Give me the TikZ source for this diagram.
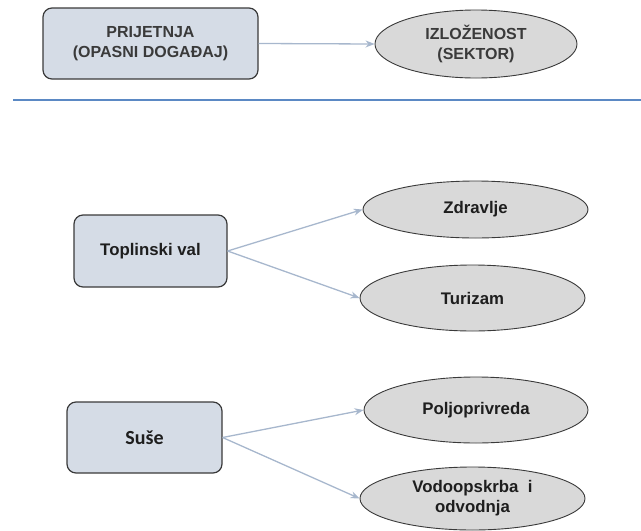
\documentclass[tikz,border=0pt]{standalone}
\usepackage{fontspec}
\setmainfont{Liberation Sans}
\newfontfamily\calfont{Carlito}
\usetikzlibrary{shapes.geometric,arrows.meta}
\definecolor{boxfill}{HTML}{D5DCE6}
\definecolor{ellfill}{HTML}{D9D9D9}
\definecolor{edgecol}{HTML}{3A3A3A}
\definecolor{arrcol}{HTML}{A7B7CD}
\definecolor{linecol}{HTML}{5B89C4}
\definecolor{txtgray}{HTML}{3A3A3A}
\definecolor{txtdark}{HTML}{1E1E1E}
\tikzset{
  hazard/.style={draw=edgecol, line width=1.2pt, fill=boxfill, rounded corners=9pt, inner sep=0pt, align=center},
  sector/.style={ellipse, draw=edgecol, line width=0.9pt, fill=ellfill, inner sep=0pt, align=center},
  link/.style={draw=arrcol, line width=1.3pt, -{Stealth[length=9pt,width=7pt]}},
  lbl/.style={font=\fontsize{16}{20}\selectfont\bfseries, text=txtgray},
  lbl2/.style={font=\fontsize{16.8}{20}\selectfont\bfseries, text=txtdark}
}
\begin{document}
\begin{tikzpicture}[x=1pt,y=-1pt]
\useasboundingbox (0,0) rectangle (641,531);
% header
\node[hazard, lbl, minimum width=215pt, minimum height=71pt] (prij) at (150.5,43.5) {PRIJETNJA\\(OPASNI DOGA\DJ AJ)};
\node[sector, lbl, minimum width=202pt, minimum height=68pt] (izl) at (476,44) {IZLOŽENOST\\(SEKTOR)};
\draw[link] (prij.east) -- (izl.west);
\coordinate (la) at (13,100);
\coordinate (lb) at (641,100);
\draw[linecol, line width=1.2pt] (la) -- (lb);
% heat wave
\node[hazard, lbl2, minimum width=153pt, minimum height=72pt] (topl) at (150.5,251) {Toplinski val};
\node[sector, lbl2, minimum width=225pt, minimum height=57pt] (zdr) at (475.5,209.5) {Zdravlje};
\node[sector, lbl2, minimum width=225pt, minimum height=66pt] (tur) at (472.5,298) {Turizam};
\draw[link] (topl.east) -- (zdr.west);
\draw[link] (topl.east) -- (tur.west);
% drought
\node[hazard, font=\calfont\fontsize{20}{22}\selectfont\bfseries, text=txtdark, minimum width=155pt, minimum height=71pt] (suse) at (144.5,437.5) {Suše};
\node[sector, lbl2, minimum width=224pt, minimum height=66pt] (polj) at (476,410) {Poljoprivreda};
\node[sector, lbl2, minimum width=225pt, minimum height=63pt] (vodo) at (472.5,498.5) {Vodoopskrba\ \ i\\odvodnja};
\draw[link] (suse.east) -- (polj.west);
\draw[link] (suse.east) -- (vodo.west);
\end{tikzpicture}
\end{document}
